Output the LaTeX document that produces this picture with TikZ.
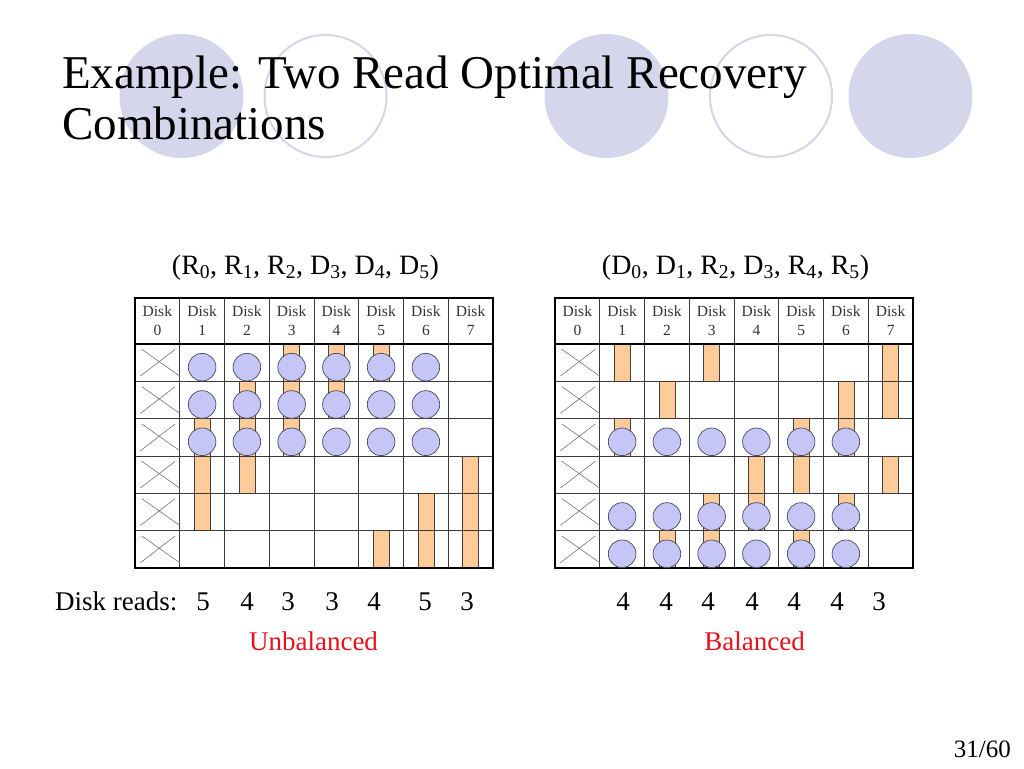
\documentclass[tikz,border=0pt]{standalone}
\usepackage{fontspec}
\setmainfont{Liberation Serif}
\usepackage{xcolor}
\usepackage{tikz}
\definecolor{cdeco}{HTML}{D5D5EB}
\definecolor{cchunk}{HTML}{FFCC99}
\definecolor{cread}{HTML}{C6C6F6}
\definecolor{cedge}{HTML}{484862}
\definecolor{cgrid}{HTML}{3A3A3A}
\definecolor{cbal}{HTML}{E8101A}

% frame of one disk table, in cell units; #1 = name prefix
\newcommand{\diskgrid}[1]{%
  \foreach \c in {1,...,7} \draw[gridline] (\c,-1.232) -- (\c,6);
  \foreach \r in {1,...,5} \draw[gridline] (0,\r) -- (8,\r);
  \draw[frame] (0,-1.232) rectangle (8,6);
  \draw[frame] (0,0) -- (8,0);
  \foreach \c in {0,...,7} \node[diskhead] (#1h\c) at (\c+0.5,-0.616) {Disk\\\c};
  \foreach \r in {0,...,5} {
    \draw[cross] (0.15,\r+0.14) -- (1,\r+0.86);
    \draw[cross] (0.12,\r+0.86) -- (0.9,\r+0.14);
  }%
}

\begin{document}
\begin{tikzpicture}[x=1pt,y=-1pt,
  chunk/.style={fill=cchunk,draw=black!75,line width=0.6pt},
  readdot/.style={fill=cread,draw=cedge,line width=0.7pt},
  gridline/.style={draw=cgrid,line width=0.7pt},
  frame/.style={draw=black,line width=1.6pt},
  cross/.style={draw=black!55,line width=0.6pt},
  diskhead/.style={font=\fontsize{15.5}{19}\selectfont,align=center,text=black!80,inner sep=0pt},
  label/.style={font=\fontsize{27}{32}\selectfont,inner sep=0pt}]
  \useasboundingbox[fill=white] (0,0) rectangle (1024,768);
  % slide decoration
  \fill[cdeco] (181.5,96) circle[radius=62pt];
  \draw[cdeco,line width=2pt] (325.5,96) circle[radius=61pt];
  \fill[cdeco] (606.5,96) circle[radius=62pt];
  \draw[cdeco,line width=2pt] (771,96) circle[radius=61pt];
  \fill[cdeco] (910.5,96) circle[radius=62pt];
  \node[anchor=base west,font=\fontsize{47}{49}\selectfont,inner sep=0pt] (title) at (62,88) {Example: Two Read Optimal Recovery};
  \node[anchor=base west,font=\fontsize{47}{49}\selectfont,inner sep=0pt] (title2) at (62,139) {Combinations};
  % combinations
  \node[label,anchor=base,font=\fontsize{28}{32}\selectfont] (lcombo) at (305.5,274) {(R\textsubscript{0}, R\textsubscript{1}, R\textsubscript{2}, D\textsubscript{3}, D\textsubscript{4}, D\textsubscript{5})};
  \node[label,anchor=base,font=\fontsize{28}{32}\selectfont] (rcombo) at (735.5,274) {(D\textsubscript{0}, D\textsubscript{1}, R\textsubscript{2}, D\textsubscript{3}, R\textsubscript{4}, R\textsubscript{5})};
  % left table
  \begin{scope}[shift={(135,344)},x=44.75pt,y=-37.33pt]
    \foreach \c/\a/\b in {1/2/5,2/1/4,3/0/3,4/0/2,5/0/1,5/5/6,6/4/6,7/3/6}
      \draw[chunk] (\c+0.32,\a) rectangle (\c+0.68,\b);
    \diskgrid{l}
    \foreach \c in {1,...,6} \foreach \r in {0,1,2}
      \draw[readdot] (\c+0.5,\r+0.62) circle[radius=13.8pt];
  \end{scope}
  % right table
  \begin{scope}[shift={(555,344)},x=44.75pt,y=-37.33pt]
    \foreach \c/\a/\b in {1/0/1,1/2/3,2/1/2,2/5/6,3/0/1,3/4/6,4/3/5,5/2/4,5/5/6,6/1/3,6/4/5,7/0/2,7/3/4}
      \draw[chunk] (\c+0.32,\a) rectangle (\c+0.68,\b);
    \diskgrid{r}
    \foreach \c in {1,...,6} \foreach \r in {2,4,5}
      \draw[readdot] (\c+0.5,\r+0.62) circle[radius=13.8pt];
  \end{scope}
  % disk reads
  \node[label,anchor=base west] (dreads) at (55,610) {Disk reads:};
  \foreach \x/\n [count=\i] in {203/5,247/4,288/3,332/3,374/4,425/5,467/3}
    \node[label,anchor=base] (ln\i) at (\x,610) {\n};
  \foreach \x/\n [count=\i] in {623/4,666/4,708/4,752/4,794/4,837/4,879/3}
    \node[label,anchor=base] (rn\i) at (\x,610) {\n};
  \node[label,anchor=base,text=cbal] (unbal) at (313.5,650) {Unbalanced};
  \node[label,anchor=base,text=cbal] (bal) at (754.5,650) {Balanced};
  \node[anchor=base east,font=\fontsize{25}{30}\selectfont,inner sep=0pt] (page) at (1011,757) {31/60};
\end{tikzpicture}
\end{document}
